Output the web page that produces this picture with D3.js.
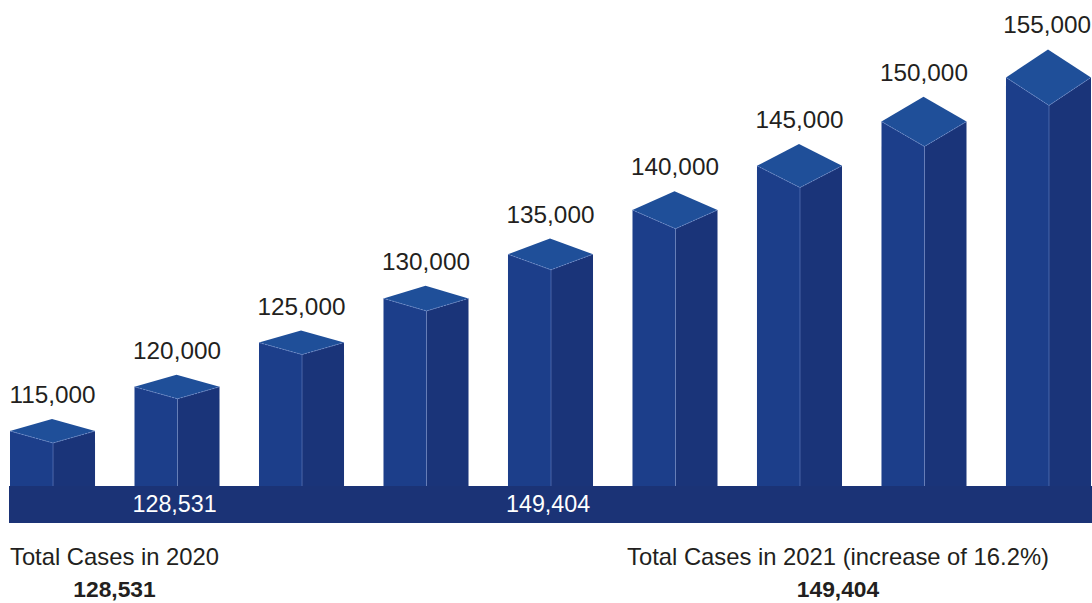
<!DOCTYPE html>
<html>
<head>
<meta charset="utf-8">
<script src="https://cdn.jsdelivr.net/npm/d3@7"></script>
<style>
  html, body { margin: 0; padding: 0; background: #fff; }
  svg { display: block; }
  text { font-family: "Liberation Sans", Arial, Helvetica, sans-serif; }
</style>
</head>
<body>
<svg id="chart" width="1092" height="603"></svg>
<script>
// Projected case counts, one column per step
const steps = ["1", "2", "3", "4", "5", "6", "7", "8", "9"];
const values = [115000, 120000, 125000, 130000, 135000, 140000, 145000, 150000, 155000];

// Yearly totals shown on the base strip and in the footer
const totalYears = ["2020", "2021"];
const totalValues = [128531, 149404];
const totalAnchorStep = ["2", "5"];
const totalCaptions = ["Total Cases in 2020", "Total Cases in 2021 (increase of 16.2%)"];

const W = 1092, H = 603;
const baseTop = 486, baseBottom = 523;

const svg = d3.select("#chart");
const fmt = d3.format(",");

const x = d3.scaleBand()
  .domain(steps)
  .range([10, 1091])
  .paddingInner(0.317)
  .paddingOuter(0);

const y = d3.scaleLinear()
  .domain([100000, 160000])
  .range([563.6, 33.2]);

const colors = {
  front: "#1c3e8a",
  side: "#1a3479",
  top: "#1f4f99",
  base: "#1b3376",
  edge: "#7b96d4",
  text: "#231f20"
};

// depth of the top face grows for the taller columns
function topDepth(v) {
  const h = baseTop - y(v);
  return 12 + 0.07 * Math.max(0, h - 180);
}

const bars = steps.map((s, i) => {
  const L = x(s), w = x.bandwidth();
  const yc = y(values[i]);
  const d = topDepth(values[i]);
  const mid = L + w * 0.506;
  return { s, v: values[i], L, R: L + w, yc, d, mid };
});

const g = svg.append("g");

const col = g.selectAll("g.col").data(bars).join("g").attr("class", "col");

// left (front) face
col.append("path")
  .attr("fill", colors.front)
  .attr("d", b => `M${b.L},${b.yc} L${b.mid},${b.yc + b.d} L${b.mid},${baseTop} L${b.L},${baseTop} Z`);

// right (side) face
col.append("path")
  .attr("fill", colors.side)
  .attr("d", b => `M${b.mid},${b.yc + b.d} L${b.R},${b.yc} L${b.R},${baseTop} L${b.mid},${baseTop} Z`);

// top face
col.append("path")
  .attr("fill", colors.top)
  .attr("d", b => `M${b.L},${b.yc} L${b.mid - 1},${b.yc - b.d} L${b.R},${b.yc} L${b.mid},${b.yc + b.d} Z`);

// light edges where the faces meet
col.append("path")
  .attr("fill", "none")
  .attr("stroke", colors.edge)
  .attr("stroke-width", 0.8)
  .attr("stroke-dasharray", "2,1")
  .attr("opacity", 0.8)
  .attr("d", b => `M${b.L},${b.yc} L${b.mid},${b.yc + b.d} L${b.R},${b.yc}`);
col.append("line")
  .attr("stroke", colors.edge)
  .attr("stroke-width", 0.8)
  .attr("opacity", 0.6)
  .attr("x1", b => b.mid).attr("x2", b => b.mid)
  .attr("y1", b => b.yc + b.d).attr("y2", baseTop);

// value labels above each column, kept inside the right edge
col.append("text")
  .attr("x", b => (b.L + b.R) / 2)
  .attr("y", b => b.yc - b.d - 16)
  .attr("text-anchor", "middle")
  .attr("font-size", 24.3)
  .attr("fill", colors.text)
  .text(b => fmt(b.v))
  .each(function () {
    const t = d3.select(this);
    const half = this.getComputedTextLength() / 2;
    const cx = +t.attr("x");
    if (cx + half > W - 1) t.attr("x", W - 1 - half);
  });

// base strip
svg.append("rect")
  .attr("x", 9).attr("y", baseTop)
  .attr("width", W - 9).attr("height", baseBottom - baseTop)
  .attr("fill", colors.base);

// yearly totals on the strip
svg.selectAll("text.strip").data(totalValues).join("text")
  .attr("class", "strip")
  .attr("x", (v, i) => x(totalAnchorStep[i]) - 2)
  .attr("y", 512)
  .attr("font-size", 23.3)
  .attr("fill", "#ffffff")
  .text(v => fmt(v));

// footer captions
const footerX = [114.5, 838];
const foot = svg.selectAll("g.foot").data(totalYears).join("g").attr("class", "foot");
foot.append("text")
  .attr("x", (d, i) => footerX[i])
  .attr("y", 565)
  .attr("text-anchor", "middle")
  .attr("font-size", 23.8)
  .attr("fill", colors.text)
  .text((d, i) => totalCaptions[i]);
foot.append("text")
  .attr("x", (d, i) => footerX[i])
  .attr("y", 597)
  .attr("text-anchor", "middle")
  .attr("font-size", 22.8)
  .attr("font-weight", "bold")
  .attr("fill", colors.text)
  .text((d, i) => fmt(totalValues[i]));
</script>
</body>
</html>
